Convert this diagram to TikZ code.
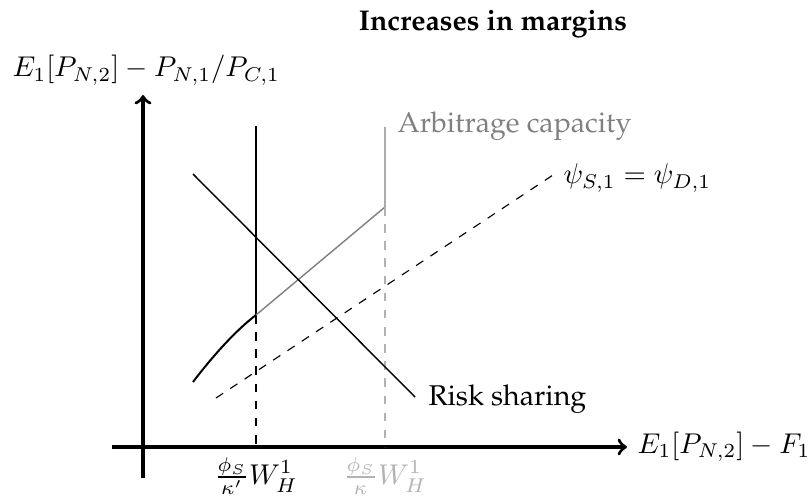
\documentclass[tikz,border=0pt]{standalone}
\usepackage[T1]{fontenc}
\renewcommand{\rmdefault}{ppl}
\begin{document}
\begin{tikzpicture}[x=0.35pt,y=-0.35pt,
  axis/.style={line width=1.15pt,->},
  curveline/.style={line width=0.5pt},
  grayline/.style={gray,line width=0.5pt},
  guide/.style={dashed,line width=0.4pt},
  lbl/.style={inner sep=0pt,font=\normalsize}]
\useasboundingbox (0,0) rectangle (811,498);
% coordinates
\coordinate (yb) at (143,478);
\coordinate (yt) at (143,95);
\coordinate (xl) at (112,447);
\coordinate (xr) at (627,447);
\coordinate (vtop) at (256,126);
\coordinate (kink) at (256,315);
\coordinate (vbot) at (256,447);
\coordinate (gtop) at (385,127);
\coordinate (gcorner) at (385,207);
\coordinate (gbot) at (385,447);
\coordinate (rs1) at (193,174);
\coordinate (rs2) at (415,397);
\coordinate (ps1) at (216,398);
\coordinate (ps2) at (553,175);
\coordinate (cv0) at (193,382);
% axes
\draw[axis] (yb) -- (yt);
\draw[axis] (xl) -- (xr);
% curves
\draw[curveline] (vtop) -- (kink);
\draw[guide] (kink) -- (vbot);
\draw[grayline] (gtop) -- (gcorner) -- (kink);
\draw[guide,gray!60] (gcorner) -- (gbot);
\draw[curveline] (rs1) -- (rs2);
\draw[guide] (ps1) -- (ps2);
\draw[line width=0.7pt] (cv0) .. controls (212,357) and (235,331) .. (kink);
% labels
\node[lbl,font=\bfseries] (title) at (493,24) {Increases in margins};
\node[lbl,anchor=base west] (ylab) at (12,77) {$E_1[P_{N,2}]-P_{N,1}/P_{C,1}$};
\node[lbl,anchor=west] (xlab) at (637,447) {$E_1[P_{N,2}]-F_1$};
\node[lbl,anchor=base west,gray] (arb) at (397,133) {Arbitrage capacity};
\node[lbl,anchor=base west] (psi) at (563,184) {$\psi_{S,1}=\psi_{D,1}$};
\node[lbl,anchor=base west] (risk) at (428,405) {Risk sharing};
\node[lbl,anchor=north] (t1) at (256,457) {$\frac{\phi_S}{\kappa'}W_H^1$};
\node[lbl,anchor=north,gray!60] (t2) at (385,457) {$\frac{\phi_S}{\kappa}W_H^1$};
\end{tikzpicture}
\end{document}
